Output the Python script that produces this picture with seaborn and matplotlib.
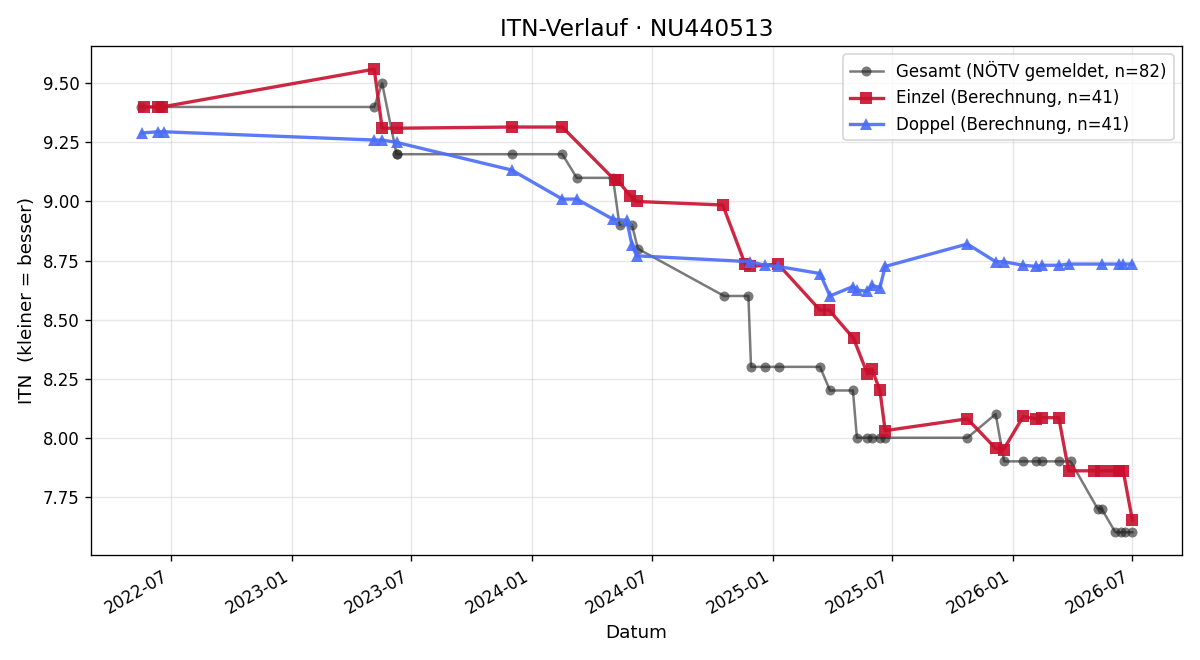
import pandas as pd
import matplotlib
matplotlib.use('Agg')
import matplotlib.pyplot as plt
import matplotlib.dates as mdates
from matplotlib.ticker import FormatStrFormatter
import seaborn as sns

gesamt_dates = ['2022-05-16', '2022-06-13', '2022-06-17', '2023-05-06', '2023-05-18', '2023-06-09',
                '2023-06-10', '2023-12-01', '2024-02-16', '2024-03-09', '2024-05-03', '2024-05-13',
                '2024-06-01', '2024-06-10', '2024-10-19', '2024-11-25', '2024-11-29', '2024-12-20',
                '2025-01-10', '2025-03-14', '2025-03-29', '2025-05-03', '2025-05-09', '2025-05-25',
                '2025-06-01', '2025-06-13', '2025-06-21', '2025-10-24', '2025-12-06', '2025-12-19',
                '2026-01-17', '2026-02-06', '2026-02-14', '2026-03-13', '2026-03-30', '2026-05-10',
                '2026-05-16', '2026-06-06', '2026-06-14', '2026-06-21', '2026-07-02']
gesamt_itn = [9.40, 9.40, 9.40, 9.40, 9.50, 9.20,
              9.20, 9.20, 9.20, 9.10, 9.10, 8.90,
              8.90, 8.80, 8.60, 8.60, 8.30, 8.30,
              8.30, 8.30, 8.20, 8.20, 8.00, 8.00,
              8.00, 8.00, 8.00, 8.00, 8.10, 7.90,
              7.90, 7.90, 7.90, 7.90, 7.90, 7.70,
              7.70, 7.60, 7.60, 7.60, 7.60]

einzel_dates = ['2022-05-21', '2022-06-11', '2022-06-17', '2023-05-06', '2023-05-18', '2023-06-09',
                '2023-12-01', '2024-02-16', '2024-05-06', '2024-05-10', '2024-05-29', '2024-06-08',
                '2024-10-17', '2024-11-20', '2024-11-28', '2025-01-09', '2025-03-14', '2025-03-28',
                '2025-05-04', '2025-05-25', '2025-06-01', '2025-06-13', '2025-06-21', '2025-10-24',
                '2025-12-06', '2025-12-18', '2026-01-17', '2026-02-06', '2026-02-14', '2026-03-12',
                '2026-03-27', '2026-05-05', '2026-05-15', '2026-06-03', '2026-06-11', '2026-06-18',
                '2026-07-02']
einzel_itn = [9.40, 9.40, 9.40, 9.56, 9.31, 9.31,
              9.315, 9.315, 9.09, 9.09, 9.025, 9.00,
              8.985, 8.735, 8.725, 8.735, 8.54, 8.54,
              8.42, 8.27, 8.29, 8.20, 8.03, 8.08,
              7.955, 7.95, 8.09, 8.08, 8.085, 8.085,
              7.86, 7.86, 7.86, 7.86, 7.86, 7.86,
              7.65]

doppel_dates = ['2022-05-18', '2022-06-11', '2022-06-20', '2023-05-06', '2023-05-18', '2023-06-09',
                '2023-12-01', '2024-02-16', '2024-03-09', '2024-05-03', '2024-05-24', '2024-06-01',
                '2024-06-08', '2024-11-28', '2024-12-20', '2025-01-09', '2025-03-14', '2025-03-29',
                '2025-05-03', '2025-05-09', '2025-05-25', '2025-06-01', '2025-06-13', '2025-06-21',
                '2025-10-24', '2025-12-06', '2025-12-18', '2026-01-17', '2026-02-06', '2026-02-14',
                '2026-03-12', '2026-03-27', '2026-05-16', '2026-06-11', '2026-06-18', '2026-07-02']
doppel_itn = [9.29, 9.295, 9.295, 9.26, 9.26, 9.25,
              9.133, 9.01, 9.01, 8.925, 8.92, 8.815,
              8.77, 8.745, 8.73, 8.725, 8.695, 8.60,
              8.64, 8.625, 8.62, 8.645, 8.635, 8.725,
              8.82, 8.745, 8.745, 8.73, 8.725, 8.73,
              8.73, 8.735, 8.735, 8.735, 8.735, 8.735]


def make_frame(dates, values):
    return pd.DataFrame({'datum': pd.to_datetime(dates), 'itn': values})


def main():
    fig, ax = plt.subplots(figsize=(10, 5.5), dpi=120)

    sns.lineplot(data=make_frame(gesamt_dates, gesamt_itn), x='datum', y='itn', ax=ax,
                 estimator=None, sort=False, color='#222222', alpha=0.6, linewidth=1.5,
                 marker='o', markersize=6, markeredgewidth=0,
                 label='Gesamt (NÖTV gemeldet, n=82)')
    sns.lineplot(data=make_frame(einzel_dates, einzel_itn), x='datum', y='itn', ax=ax,
                 estimator=None, sort=False, color='#c8102e', alpha=0.9, linewidth=2,
                 marker='s', markersize=7.5, markeredgewidth=0,
                 label='Einzel (Berechnung, n=41)')
    sns.lineplot(data=make_frame(doppel_dates, doppel_itn), x='datum', y='itn', ax=ax,
                 estimator=None, sort=False, color='#4a6cf7', alpha=0.9, linewidth=2,
                 marker='^', markersize=7.5, markeredgewidth=0,
                 label='Doppel (Berechnung, n=41)')

    ax.set_title('ITN-Verlauf · NU440513', fontsize=14)
    ax.set_xlabel('Datum', fontsize=11)
    ax.set_ylabel('ITN  (kleiner = besser)', fontsize=11)
    ax.xaxis.set_major_locator(mdates.MonthLocator(bymonth=[1, 7]))
    ax.xaxis.set_major_formatter(mdates.DateFormatter('%Y-%m'))
    ax.yaxis.set_major_formatter(FormatStrFormatter('%.2f'))
    ax.grid(True, alpha=0.3)
    ax.legend(loc='upper right')
    fig.autofmt_xdate()
    fig.tight_layout()
    fig.savefig('out.png')


if __name__ == '__main__':
    main()
